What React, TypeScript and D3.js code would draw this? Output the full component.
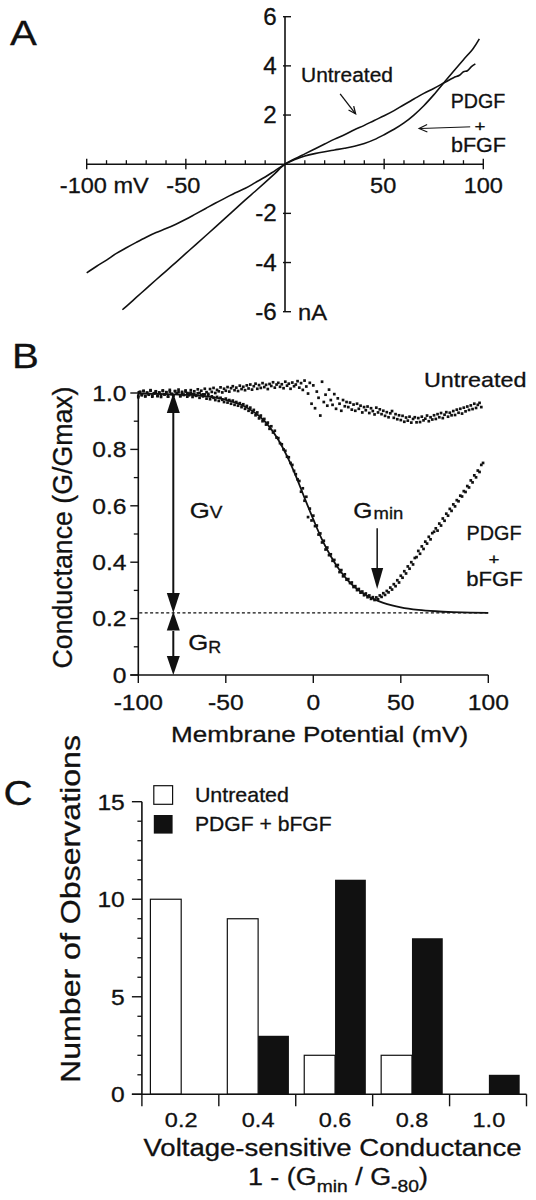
import React from "react";
import * as d3 from "d3";

const FONT = "'Liberation Sans', Arial, Helvetica, sans-serif";
const INK = "#111";

// ---------------- Panel A : current-voltage traces ----------------
const ivUntreatedV = [-100, -95, -90, -85, -80, -75, -70, -65, -60, -55, -50, -45, -40, -35, -30, -25, -20, -15, -10, -5, 0, 5, 10, 15, 20, 25, 30, 35, 40, 45, 50, 55, 60, 65, 70, 75, 80, 85, 88, 90, 92, 94, 96];
const ivUntreatedI = [-4.42, -4.15, -3.9, -3.63, -3.4, -3.18, -2.97, -2.78, -2.62, -2.44, -2.24, -2.02, -1.8, -1.58, -1.37, -1.16, -0.98, -0.75, -0.52, -0.26, 0, 0.22, 0.42, 0.62, 0.82, 1.02, 1.2, 1.4, 1.58, 1.78, 1.97, 2.18, 2.42, 2.65, 2.88, 3.08, 3.3, 3.52, 3.62, 3.76, 3.8, 3.97, 4.08];
const ivGrowthV = [-82, -80, -75, -70, -65, -60, -55, -50, -45, -40, -35, -30, -25, -20, -15, -10, -5, 0, 5, 10, 15, 20, 25, 30, 35, 40, 45, 50, 55, 60, 65, 70, 75, 80, 85, 90, 95, 98];
const ivGrowthI = [-5.92, -5.78, -5.42, -5.06, -4.7, -4.35, -3.99, -3.63, -3.27, -2.91, -2.55, -2.18, -1.82, -1.45, -1.1, -0.74, -0.37, 0, 0.19, 0.33, 0.43, 0.51, 0.58, 0.65, 0.73, 0.84, 1.0, 1.2, 1.42, 1.68, 2.0, 2.38, 2.82, 3.3, 3.78, 4.25, 4.72, 5.1];
const ivXMajor = [-100, -50, 50, 100];
const ivYTicks = [-6, -4, -2, 2, 4, 6];

// ---------------- Panel B : normalised conductance ----------------
const gFirstV = -100; // voltage of first sample (mV)
const gStepV = 1; // sample spacing (mV)
const gUntreated = [
  0.985, 1.004, 0.992, 1.008, 0.989, 1.001, 0.994, 1.01, 0.987, 0.999,
  1.006, 0.99, 1.002, 0.986, 1.009, 0.995, 1.003, 0.988, 1.011, 0.996,
  0.991, 1.007, 0.998, 1.012, 0.989, 1.004, 0.993, 1.009, 1.0, 0.992,
  1.01, 0.996, 1.006, 0.991, 1.013, 1.0, 1.008, 0.995, 1.015, 1.003,
  0.997, 1.014, 1.004, 1.018, 1.0, 1.011, 1.006, 1.02, 1.002, 1.015,
  1.008, 1.021, 1.005, 1.017, 1.024, 1.01, 1.019, 1.007, 1.026, 1.014,
  1.022, 1.01, 1.027, 1.016, 1.03, 1.012, 1.024, 1.033, 1.015, 1.028,
  1.018, 1.035, 1.021, 1.029, 1.014, 1.032, 1.025, 1.038, 1.019, 1.03,
  1.036, 1.022, 1.031, 1.017, 1.04, 1.026, 1.033, 1.015, 1.037, 1.024,
  1.03, 1.042, 1.019, 1.035, 1.011, 1.044, 1.023, 0.998, 1.036, 0.962,
  1.027, 0.946, 1.005, 0.983, 0.92, 1.04, 0.968, 0.994, 0.955, 1.012,
  0.975, 0.958, 0.996, 0.944, 0.981, 0.962, 0.937, 0.975, 0.953, 0.968,
  0.95, 0.966, 0.941, 0.959, 0.937, 0.962, 0.944, 0.955, 0.931, 0.95,
  0.939, 0.952, 0.929, 0.946, 0.936, 0.924, 0.948, 0.931, 0.942, 0.925,
  0.937, 0.919, 0.932, 0.914, 0.928, 0.936, 0.912, 0.925, 0.907, 0.921,
  0.904, 0.919, 0.898, 0.913, 0.902, 0.916, 0.895, 0.908, 0.914, 0.896,
  0.911, 0.897, 0.916, 0.903, 0.909, 0.92, 0.9, 0.914, 0.906, 0.921,
  0.908, 0.925, 0.914, 0.929, 0.911, 0.923, 0.932, 0.916, 0.93, 0.921,
  0.936, 0.922, 0.941, 0.93, 0.944, 0.927, 0.948, 0.935, 0.952, 0.94,
  0.956, 0.943, 0.962, 0.947, 0.958, 0.965, 0.95,
];
const gGrowth = [
  0.99, 1.003, 0.994, 1.006, 0.988, 1.001, 0.996, 1.008, 0.991, 0.999,
  1.004, 0.989, 1.0, 0.993, 1.007, 0.995, 1.002, 0.987, 1.005, 0.997,
  0.992, 1.006, 0.998, 1.003, 0.989, 1.0, 0.994, 1.005, 0.987, 0.998,
  1.001, 0.986, 0.996, 0.99, 0.999, 0.983, 0.993, 0.988, 0.995, 0.98,
  0.991, 0.978, 0.988, 0.983, 0.975, 0.986, 0.972, 0.983, 0.976, 0.968,
  0.98, 0.966, 0.975, 0.962, 0.973, 0.958, 0.968, 0.955, 0.964, 0.95,
  0.96, 0.944, 0.954, 0.937, 0.948, 0.93, 0.94, 0.921, 0.931, 0.91,
  0.92, 0.9, 0.908, 0.888, 0.895, 0.873, 0.882, 0.86, 0.866, 0.842,
  0.84, 0.822, 0.818, 0.8, 0.795, 0.774, 0.772, 0.752, 0.745, 0.724,
  0.712, 0.694, 0.688, 0.65, 0.662, 0.618, 0.632, 0.56, 0.59, 0.548,
  0.565, 0.528, 0.53, 0.498, 0.502, 0.47, 0.476, 0.445, 0.452, 0.425,
  0.428, 0.405, 0.408, 0.386, 0.39, 0.365, 0.372, 0.35, 0.357, 0.338,
  0.34, 0.326, 0.328, 0.312, 0.315, 0.301, 0.305, 0.292, 0.296, 0.283,
  0.289, 0.276, 0.282, 0.27, 0.276, 0.266, 0.275, 0.269, 0.282, 0.277,
  0.29, 0.284, 0.298, 0.293, 0.31, 0.303, 0.322, 0.315, 0.336, 0.328,
  0.352, 0.345, 0.368, 0.36, 0.385, 0.377, 0.4, 0.392, 0.415, 0.418,
  0.44, 0.43, 0.456, 0.447, 0.473, 0.466, 0.49, 0.481, 0.503, 0.508,
  0.52, 0.512, 0.537, 0.53, 0.555, 0.547, 0.572, 0.565, 0.589, 0.582,
  0.605, 0.598, 0.62, 0.616, 0.636, 0.633, 0.652, 0.649, 0.67, 0.665,
  0.69, 0.683, 0.708, 0.701, 0.725, 0.72, 0.745, 0.752,
];
const fitV = [-100, -90, -80, -70, -60, -50, -45, -40, -35, -30, -25, -20, -15, -10, -5, 0, 5, 10, 15, 20, 25, 30, 35, 40, 45, 50, 60, 70, 80, 90, 100];
const fitG = [0.998, 0.997, 0.995, 0.993, 0.987, 0.976, 0.967, 0.955, 0.937, 0.913, 0.88, 0.834, 0.776, 0.706, 0.628, 0.552, 0.48, 0.421, 0.372, 0.334, 0.305, 0.284, 0.268, 0.256, 0.247, 0.24, 0.231, 0.226, 0.223, 0.221, 0.22];
const gResidual = 0.22;
const gHoldV = -80;
const gMinV = 36.5;
const bXTicks = [-100, -50, 0, 50, 100];
const bYTicks = [0, 0.2, 0.4, 0.6, 0.8, 1.0];
const bYLabels = ["0", "0.2", "0.4", "0.6", "0.8", "1.0"];
const bYMinor = [0.1, 0.3, 0.5, 0.7, 0.9];

// ---------------- Panel C : histogram ----------------
const bins = ["0.2", "0.4", "0.6", "0.8", "1.0"];
const countUntreated = [10, 9, 2, 2, 0];
const countGrowth = [0, 3, 11, 8, 1];
const cYTicks = [0, 5, 10, 15];
const cYMinor = [1, 2, 3, 4, 6, 7, 8, 9, 11, 12, 13, 14];

type TP = {
  x: number;
  y: number;
  size: number;
  anchor?: "start" | "middle" | "end";
  sx?: number;
  len?: number;
  rot?: number;
  children: React.ReactNode;
};
function T({ x, y, size, anchor = "start", sx = 1, len, rot = 0, children }: TP) {
  let tf = `translate(${x},${y})`;
  if (rot) tf += ` rotate(${rot})`;
  if (sx !== 1) tf += ` scale(${sx},1)`;
  return (
    <text
      transform={tf}
      fontSize={size}
      textAnchor={anchor}
      fontFamily={FONT}
      fill={INK}
      stroke={INK}
      strokeWidth={0.3}
      textLength={len}
      lengthAdjust={len ? "spacingAndGlyphs" : undefined}
    >
      {children}
    </text>
  );
}

function openHead(x1: number, y1: number, x2: number, y2: number, len = 9, ang = 0.42) {
  const a = Math.atan2(y2 - y1, x2 - x1);
  const p1 = [x2 - len * Math.cos(a - ang), y2 - len * Math.sin(a - ang)];
  const p2 = [x2 - len * Math.cos(a + ang), y2 - len * Math.sin(a + ang)];
  return `M${p1[0]},${p1[1]}L${x2},${y2}L${p2[0]},${p2[1]}`;
}
function vHead(x: number, tipY: number, dir: number, len: number, hw: number) {
  // dir = -1 pointing up, +1 pointing down
  const by = tipY - dir * len;
  return `M${x},${tipY}L${x - hw},${by}L${x + hw},${by}Z`;
}

export default function App() {
  // ---------- Panel A scales ----------
  const xA = d3.scaleLinear().domain([-100, 100]).range([86.7, 483.3]);
  const yA = d3.scaleLinear().domain([-6, 6]).range([311.7, 16.7]);
  const lineA = d3
    .line<[number, number]>()
    .x((d) => xA(d[0]))
    .y((d) => yA(d[1]))
    .curve(d3.curveCatmullRom);
  const pathUntreatedA = lineA(ivUntreatedV.map((v, i) => [v, ivUntreatedI[i]] as [number, number])) || "";
  const pathGrowthA = lineA(ivGrowthV.map((v, i) => [v, ivGrowthI[i]] as [number, number])) || "";
  const x0A = xA(0);
  const y0A = yA(0);
  const minorA = d3.range(-100, 101, 10).filter((v) => v % 50 !== 0);

  // ---------- Panel B scales ----------
  const xB = d3.scaleLinear().domain([-100, 100]).range([138.3, 488.3]);
  const yB = d3.scaleLinear().domain([0, 1]).range([675, 393]);
  const lineB = d3
    .line<[number, number]>()
    .x((d) => xB(d[0]))
    .y((d) => yB(d[1]))
    .curve(d3.curveMonotoneX);
  const fitPath = lineB(fitV.map((v, i) => [v, fitG[i]] as [number, number])) || "";
  const gvX = xB(gHoldV);
  const gminX = xB(gMinV);

  // ---------- Panel C scales ----------
  const yC = d3.scaleLinear().domain([0, 15]).range([1094.3, 801.7]);
  const xC = d3.scaleBand<string>().domain(bins).range([141.9, 526.5]).padding(0);
  const xC2 = d3.scaleBand<string>().domain(["u", "g"]).range([8.5, 70.1]).padding(0);
  const bw = xC2.bandwidth();
  const xCEnd = (xC(bins[bins.length - 1]) || 0) + xC.bandwidth();

  const dot = 2.7;

  return (
    <svg
      width={536}
      height={1200}
      viewBox="0 0 536 1200"
      style={{ position: "absolute", left: 0, top: 0, background: "#fff" }}
    >
      <rect x={0} y={0} width={536} height={1200} fill="#fff" />

      {/* ================= Panel A ================= */}
      <T x={10} y={45} size={35} sx={1.15}>A</T>
      <line x1={xA(-100)} x2={xA(100)} y1={y0A} y2={y0A} stroke={INK} strokeWidth={1.6} />
      <line x1={x0A} x2={x0A} y1={yA(6)} y2={yA(-6)} stroke={INK} strokeWidth={1.6} />
      {minorA.map((v) => (
        <line key={"am" + v} x1={xA(v)} x2={xA(v)} y1={y0A - 4} y2={y0A + 0.5} stroke={INK} strokeWidth={1.3} />
      ))}
      {ivXMajor.map((v) => (
        <line key={"aM" + v} x1={xA(v)} x2={xA(v)} y1={y0A - 5.5} y2={y0A + 5} stroke={INK} strokeWidth={1.4} />
      ))}
      {ivYTicks.map((v) => (
        <line key={"ay" + v} x1={x0A - 2} x2={x0A + 6} y1={yA(v)} y2={yA(v)} stroke={INK} strokeWidth={1.4} />
      ))}
      {ivYTicks.map((v) => (
        <T key={"ayl" + v} x={276.7} y={yA(v) + 8} size={23} anchor="end" sx={1.05}>
          {String(v)}
        </T>
      ))}
      <T x={59.8} y={193} size={22} len={89}>-100 mV</T>
      <T x={xA(-50) - 2.5} y={193} size={22} anchor="middle" sx={1.07}>-50</T>
      <T x={xA(50) - 1} y={193} size={22} anchor="middle" sx={1.07}>50</T>
      <T x={xA(100)} y={193} size={22} anchor="middle" sx={1.07}>100</T>
      <T x={298} y={319.5} size={22} sx={1.08}>nA</T>
      <path d={pathUntreatedA} fill="none" stroke={INK} strokeWidth={1.6} />
      <path d={pathGrowthA} fill="none" stroke={INK} strokeWidth={1.6} />
      <T x={301} y={82} size={19.5} len={92}>Untreated</T>
      <line x1={xA(27.8)} y1={yA(2.86)} x2={xA(35.6)} y2={yA(2.05)} stroke={INK} strokeWidth={1.3} />
      <path d={openHead(xA(27.8), yA(2.86), xA(35.6), yA(2.05), 8)} fill="none" stroke={INK} strokeWidth={1.3} />
      <T x={478} y={108} size={19.5} anchor="middle" len={54.5}>PDGF</T>
      <T x={480} y={131} size={15} anchor="middle" sx={1.25}>+</T>
      <T x={478.5} y={152} size={19.5} anchor="middle" len={55}>bFGF</T>
      <line x1={xA(93.4)} y1={yA(1.52)} x2={xA(67.6)} y2={yA(1.45)} stroke={INK} strokeWidth={1} />
      <path d={openHead(xA(93.4), yA(1.52), xA(67.6), yA(1.45), 9)} fill="none" stroke={INK} strokeWidth={1.1} />

      {/* ================= Panel B ================= */}
      <T x={12} y={368} size={35} sx={1.15}>B</T>
      <line x1={xB(-100)} x2={xB(-100)} y1={yB(1.0) - 2} y2={yB(0)} stroke={INK} strokeWidth={1.6} />
      <line x1={xB(-100) - 8} x2={xB(100)} y1={yB(0)} y2={yB(0)} stroke={INK} strokeWidth={1.6} />
      {bYTicks.map((v, i) => (
        <g key={"by" + v}>
          <line x1={xB(-100) - 8} x2={xB(-100)} y1={yB(v)} y2={yB(v)} stroke={INK} strokeWidth={1.4} />
          <T x={126.5} y={yB(v) + 7.8} size={22} anchor="end" sx={1.12}>
            {bYLabels[i]}
          </T>
        </g>
      ))}
      {bYMinor.map((v) => (
        <line key={"bym" + v} x1={xB(-100) - 4.5} x2={xB(-100)} y1={yB(v)} y2={yB(v)} stroke={INK} strokeWidth={1.3} />
      ))}
      {bXTicks.map((v) => (
        <g key={"bx" + v}>
          <line x1={xB(v)} x2={xB(v)} y1={yB(0)} y2={yB(0) + 8} stroke={INK} strokeWidth={1.4} />
          <T x={xB(v)} y={710} size={22} anchor="middle" sx={1.12}>
            {String(v)}
          </T>
        </g>
      ))}
      <T x={319.6} y={741.7} size={22} anchor="middle" len={297}>Membrane Potential (mV)</T>
      <T x={72} y={527.5} size={27} anchor="middle" rot={-90} len={282}>Conductance (G/Gmax)</T>

      <line x1={xB(-100) + 1} x2={xB(100)} y1={yB(gResidual)} y2={yB(gResidual)} stroke={INK} strokeWidth={1.2} strokeDasharray="3,2.4" />
      <path d={fitPath} fill="none" stroke={INK} strokeWidth={1.8} />
      {gUntreated.map((g, i) => (
        <rect key={"gu" + i} x={xB(gFirstV + i * gStepV) - dot / 2} y={yB(g) - dot / 2} width={dot} height={dot} fill={INK} />
      ))}
      {gGrowth.map((g, i) => (
        <rect key={"gg" + i} x={xB(gFirstV + i * gStepV) - dot / 2} y={yB(g) - dot / 2} width={dot} height={dot} fill={INK} />
      ))}

      <line x1={gvX} x2={gvX} y1={yB(1.0) + 18} y2={yB(gResidual) - 18} stroke={INK} strokeWidth={2} />
      <path d={vHead(gvX, yB(1.0), -1, 20, 6.5)} fill={INK} />
      <path d={vHead(gvX, yB(gResidual), 1, 20, 6.5)} fill={INK} />
      <line x1={gvX} x2={gvX} y1={yB(gResidual) + 18} y2={yB(0) - 18} stroke={INK} strokeWidth={2} />
      <path d={vHead(gvX, yB(gResidual) - 1.5, -1, 19, 6.5)} fill={INK} />
      <path d={vHead(gvX, yB(0), 1, 19, 6.5)} fill={INK} />
      <text fontFamily={FONT} fill={INK} stroke={INK} strokeWidth={0.3} transform="translate(189.7,518) scale(1.12,1)">
        <tspan fontSize={23}>G</tspan>
        <tspan fontSize={17}>V</tspan>
      </text>
      <text fontFamily={FONT} fill={INK} stroke={INK} strokeWidth={0.3} transform="translate(188.3,650) scale(1.12,1)">
        <tspan fontSize={23}>G</tspan>
        <tspan fontSize={16} dy={3}>R</tspan>
      </text>
      <text fontFamily={FONT} fill={INK} stroke={INK} strokeWidth={0.3} transform="translate(353.3,518.3) scale(1.12,1)">
        <tspan fontSize={22}>G</tspan>
        <tspan fontSize={16.5} dx={1} dy={1}>min</tspan>
      </text>
      <line x1={gminX} x2={gminX} y1={yB(0.52)} y2={yB(0.305) - 18} stroke={INK} strokeWidth={1.5} />
      <path d={vHead(gminX, yB(0.305), 1, 21, 6)} fill={INK} />

      <T x={424} y={387} size={21} len={102.5}>Untreated</T>
      <T x={494} y={540} size={20} anchor="middle" len={55}>PDGF</T>
      <T x={494} y={563.5} size={15} anchor="middle" sx={1.25}>+</T>
      <T x={494.5} y={585.5} size={20} anchor="middle" len={56.5}>bFGF</T>

      {/* ================= Panel C ================= */}
      <T x={3.4} y={805} size={35} sx={1.15}>C</T>
      {bins.map((b, i) => (
        <g key={"bar" + b} transform={`translate(${xC(b)},0)`}>
          {countUntreated[i] > 0 && (
            <rect
              x={xC2("u")}
              y={yC(countUntreated[i])}
              width={bw}
              height={yC(0) - yC(countUntreated[i])}
              fill="#fff"
              stroke={INK}
              strokeWidth={1.2}
            />
          )}
          {countGrowth[i] > 0 && (
            <rect x={xC2("g")} y={yC(countGrowth[i])} width={bw} height={yC(0) - yC(countGrowth[i])} fill={INK} />
          )}
        </g>
      ))}
      <line x1={141.9} x2={141.9} y1={yC(15)} y2={yC(0)} stroke={INK} strokeWidth={1.6} />
      <line x1={141.9 - 10} x2={xCEnd} y1={yC(0)} y2={yC(0)} stroke={INK} strokeWidth={1.6} />
      {cYTicks.map((v) => (
        <g key={"cy" + v}>
          <line x1={141.9 - 10} x2={141.9} y1={yC(v)} y2={yC(v)} stroke={INK} strokeWidth={1.4} />
          <T x={124.8} y={yC(v) + 7.8} size={22} anchor="end" sx={1.12}>
            {String(v)}
          </T>
        </g>
      ))}
      {cYMinor.map((v) => (
        <line key={"cym" + v} x1={141.9 - 4.5} x2={141.9} y1={yC(v)} y2={yC(v)} stroke={INK} strokeWidth={1.3} />
      ))}
      {bins.map((b) => (
        <line key={"cxt" + b} x1={xC(b)} x2={xC(b)} y1={yC(0)} y2={yC(0) + 12} stroke={INK} strokeWidth={1.4} />
      ))}
      <line x1={xCEnd} x2={xCEnd} y1={yC(0)} y2={yC(0) + 12} stroke={INK} strokeWidth={1.4} />
      {bins.map((b) => (
        <T key={"cxl" + b} x={(xC(b) || 0) + (xC2("g") || 0)} y={1126.7} size={21} anchor="middle" sx={1.12}>
          {b}
        </T>
      ))}
      <T x={332.5} y={1156} size={23.5} anchor="middle" len={378}>Voltage-sensitive Conductance</T>
      <text fontFamily={FONT} fill={INK} stroke={INK} strokeWidth={0.3} transform="translate(247.9,1185) scale(1.17,1)">
        <tspan fontSize={23}>1 - (G</tspan>
        <tspan fontSize={16.5} dy={6.5}>min</tspan>
        <tspan fontSize={23} dy={-6.5}> / G</tspan>
        <tspan fontSize={16.5} dy={6.5}>-80</tspan>
        <tspan fontSize={23} dy={-6.5}>)</tspan>
      </text>
      <T x={80} y={909} size={27} anchor="middle" rot={-90} len={348}>Number of Observations</T>
      <rect x={153.8} y={785.7} width={18.8} height={18.6} fill="#fff" stroke={INK} strokeWidth={1.2} />
      <rect x={153.8} y={815} width={18.8} height={18.6} fill={INK} />
      <T x={194.9} y={801.7} size={21} len={94}>Untreated</T>
      <T x={194.9} y={830.7} size={21} len={136.8}>PDGF + bFGF</T>
    </svg>
  );
}
